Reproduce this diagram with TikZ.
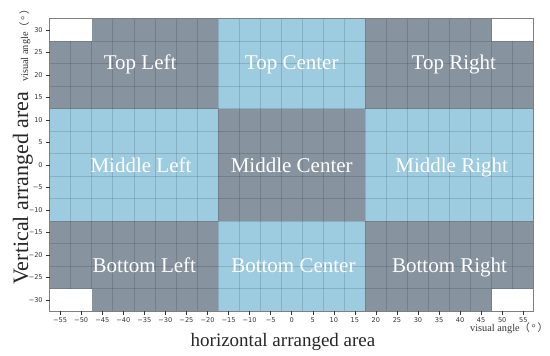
\documentclass[tikz,border=0pt]{standalone}
\usepackage{fontspec}
\setmainfont{Liberation Serif}
\newfontfamily\tickfont{DejaVu Sans}
\newfontfamily\cjk{Noto Sans CJK SC}
\definecolor{darkcell}{HTML}{87939F}
\definecolor{lightcell}{HTML}{9DCBDF}
\definecolor{tickgray}{HTML}{333333}
\definecolor{framegray}{HTML}{7F7F7F}
\newcommand{\tickval}[1]{\ifnum#1<0 −\number-#1\else#1\fi}

\begin{document}
\begin{tikzpicture}[x=1pt,y=1pt,
  region/.style={font=\fontsize{21}{21}\selectfont,text=white,anchor=base},
  ticklab/.style={font=\tickfont\fontsize{6.6}{7}\selectfont,text=tickgray,inner sep=0pt},
  unitlab/.style={font=\fontsize{10.3}{11}\selectfont,text=black!80,inner sep=0pt},
  axlab/.style={text=black!85,inner sep=0pt},
  gridline/.style={black,opacity=0.13,line width=0.6pt},
]
  \useasboundingbox (0,0) rectangle (550,356);
  \begin{scope}[shift={(291.7pt,191pt)},x=4.21pt,y=4.5pt]
    % nine areas
    \foreach \xa/\xb/\ya/\yb/\c in {
      -57.5/-17.5/12.5/32.5/darkcell, -17.5/17.5/12.5/32.5/lightcell, 17.5/57.5/12.5/32.5/darkcell,
      -57.5/-17.5/-12.5/12.5/lightcell, -17.5/17.5/-12.5/12.5/darkcell, 17.5/57.5/-12.5/12.5/lightcell,
      -57.5/-17.5/-32.5/-12.5/darkcell, -17.5/17.5/-32.5/-12.5/lightcell, 17.5/57.5/-32.5/-12.5/darkcell}
      \fill[\c] (\xa,\ya) rectangle (\xb,\yb);
    % grid
    \foreach \gx in {-52.5,-47.5,...,52.5}
      \draw[gridline] (\gx,-32.5) -- (\gx,32.5);
    \foreach \gy in {-27.5,-22.5,...,27.5}
      \draw[gridline] (-57.5,\gy) -- (57.5,\gy);
    % empty corners
    \fill[white] (-57.5,27.5) rectangle (-47.5,32.5);
    \fill[white] (47.5,27.5) rectangle (57.5,32.5);
    \fill[white] (-57.5,-32.5) rectangle (-47.5,-27.5);
    \fill[white] (47.5,-32.5) rectangle (57.5,-27.5);
    \draw[framegray,line width=0.7pt] (-57.5,-32.5) rectangle (57.5,32.5);
    % ticks
    \foreach \v in {-55,-50,...,55} {
      \draw[tickgray,line width=0.5pt] (\v,-32.5) -- ++(0,-3.5pt);
      \node[ticklab,anchor=base] at (\v,-34.9) {\tickval{\v}};
    }
    \foreach \v in {-30,-25,...,30} {
      \draw[tickgray,line width=0.5pt] (-57.5,\v) -- ++(-3.5pt,0);
      \node[ticklab,anchor=east] at (-59.1,\v) {\tickval{\v}};
    }
    % area names
    \node[region] (tl) at (-36,21.3) {Top Left};
    \node[region] (tc) at (0,21.3) {Top Center};
    \node[region] (tr) at (38.5,21.3) {Top Right};
    \node[region] (ml) at (-35.8,-1.7) {Middle Left};
    \node[region] (mc) at (0,-1.7) {Middle Center};
    \node[region] (mr) at (38,-1.7) {Middle Right};
    \node[region] (bl) at (-35,-24) {Bottom Left};
    \node[region] (bc) at (0.4,-24) {Bottom Center};
    \node[region] (br) at (37.5,-24) {Bottom Right};
  \end{scope}
  % axis titles
  \node[axlab,font=\fontsize{22}{22}\selectfont,rotate=90,anchor=base] (vlab) at (28,168) {Vertical arranged area};
  \node[axlab,font=\fontsize{19}{19}\selectfont,anchor=base] (hlab) at (283,9) {horizontal arranged area};
  \node[unitlab,anchor=base west] (xunit) at (470,24.3) {visual angle{\cjk （}\,°\,{\cjk ）}};
  \node[unitlab,rotate=90,anchor=base west] (yunit) at (28,274) {visual angle{\cjk （}\,°\,{\cjk ）}};
\end{tikzpicture}
\end{document}
